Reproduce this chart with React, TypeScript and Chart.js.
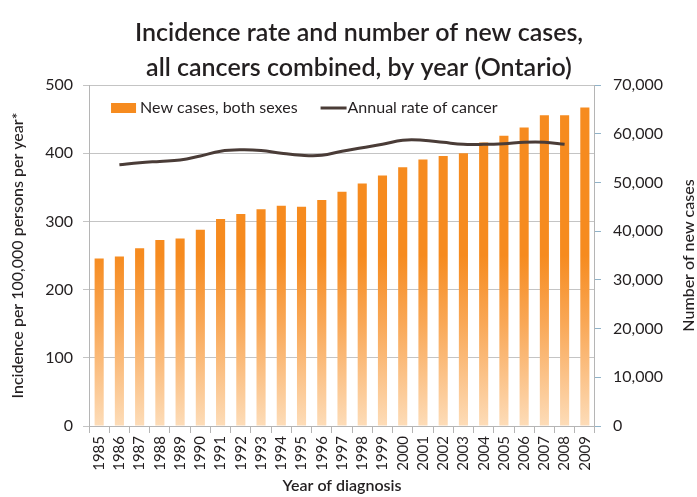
import React, { useEffect, useRef } from "react";
import { Chart, registerables } from "chart.js";

Chart.register(...registerables);

const years = ["1985","1986","1987","1988","1989","1990","1991","1992","1993","1994","1995","1996","1997","1998","1999","2000","2001","2002","2003","2004","2005","2006","2007","2008","2009"];
const newCases = [34400, 34800, 36500, 38200, 38500, 40300, 42500, 43500, 44500, 45200, 45000, 46400, 48100, 49800, 51400, 53100, 54700, 55400, 56000, 58200, 59600, 61300, 63800, 63800, 65400];
const annualRate: (number | null)[] = [null, 383, 386, 388, 390, 396, 403, 405, 404, 400, 397, 397, 403, 408, 413, 419, 419, 416, 413, 413, 414, 416, 416, 413, null];
const leftTicks = [0, 100, 200, 300, 400, 500];
const rightTicks = [0, 10000, 20000, 30000, 40000, 50000, 60000, 70000];
const titleLines = ["Incidence rate and number of new cases,", "all cancers combined, by year (Ontario)"];
const rightTitle = "Number of new cases";

const FONT = "Lato";
const TEXT = "#231f20";
const ORANGE = "#f68b1f";
const LINE = "#4a3c37";

const chartTitle = {
  id: "chartTitle",
  afterDraw(chart: any) {
    const { ctx } = chart;
    ctx.save();
    ctx.font = `600 25px ${FONT}`;
    ctx.fillStyle = TEXT;
    ctx.textAlign = "center";
    ctx.textBaseline = "middle";
    titleLines.forEach((t, i) => ctx.fillText(t, 359, 33 + i * 35));
    ctx.restore();
  },
};

const insideLegend = {
  id: "insideLegend",
  afterDatasetsDraw(chart: any) {
    const { ctx, chartArea } = chart;
    const ds = chart.data.datasets;
    ctx.save();
    ctx.font = `16px ${FONT}`;
    ctx.textBaseline = "middle";
    ctx.textAlign = "left";
    const cy = chartArea.top + 23;
    let x = chartArea.left + 22;
    ctx.fillStyle = ORANGE;
    ctx.fillRect(x, cy - 5, 25, 10);
    x += 29;
    ctx.fillStyle = TEXT;
    ctx.fillText(ds[0].label, x, cy);
    x += ctx.measureText(ds[0].label).width + 23;
    ctx.strokeStyle = LINE;
    ctx.lineWidth = 3;
    ctx.beginPath();
    ctx.moveTo(x, cy);
    ctx.lineTo(x + 26, cy);
    ctx.stroke();
    x += 27;
    ctx.fillText(ds[1].label, x, cy);
    ctx.restore();
  },
};

// right-axis title reading bottom-to-top, as in the reference
const rightAxisTitle = {
  id: "rightAxisTitle",
  afterDraw(chart: any) {
    const { ctx, chartArea, width } = chart;
    ctx.save();
    ctx.translate(width - 8, (chartArea.top + chartArea.bottom) / 2);
    ctx.rotate(-Math.PI / 2);
    ctx.font = `500 16px ${FONT}`;
    ctx.fillStyle = TEXT;
    ctx.textAlign = "center";
    ctx.textBaseline = "middle";
    ctx.fillText(rightTitle, 0, 0);
    ctx.restore();
  },
};

export default function App() {
  const ref = useRef<HTMLCanvasElement | null>(null);
  useEffect(() => {
    if (!ref.current) return;
    const barFill = (c: any) => {
      const area = c.chart.chartArea;
      if (!area) return ORANGE;
      const g = c.chart.ctx.createLinearGradient(0, area.bottom, 0, area.top);
      g.addColorStop(0, "#fddcb8");
      g.addColorStop(0.3, "#f9a857");
      g.addColorStop(0.5, ORANGE);
      g.addColorStop(1, ORANGE);
      return g;
    };
    const chart = new Chart(ref.current, {
      type: "bar",
      data: {
        labels: years,
        datasets: [
          {
            type: "bar",
            label: "New cases, both sexes",
            data: newCases,
            backgroundColor: barFill,
            yAxisID: "y2",
            barPercentage: 0.45,
            categoryPercentage: 1,
            order: 2,
          },
          {
            type: "line",
            label: "Annual rate of cancer",
            data: annualRate,
            borderColor: LINE,
            backgroundColor: LINE,
            borderWidth: 3,
            pointRadius: 0,
            tension: 0.4,
            yAxisID: "y",
            order: 1,
          },
        ] as any,
      },
      plugins: [chartTitle, insideLegend, rightAxisTitle],
      options: {
        animation: false,
        responsive: true,
        maintainAspectRatio: false,
        layout: { padding: { left: 8, right: 22, bottom: 2, top: 85 } },
        plugins: {
          title: { display: false },
          legend: { display: false },
          tooltip: { enabled: false },
        },
        scales: {
          x: {
            grid: { display: true, drawOnChartArea: false, color: "#b5b5b5", tickLength: 7, offset: true },
            border: { color: "#b5b5b5" },
            ticks: { color: TEXT, font: { family: FONT, size: 15 }, minRotation: 90, maxRotation: 90, padding: 3, autoSkip: false },
            title: { display: true, text: "Year of diagnosis", color: TEXT, font: { family: FONT, size: 16, weight: "600" as any }, padding: { top: 2, bottom: 0 } },
          },
          y: {
            position: "left",
            min: 0,
            max: 500,
            afterBuildTicks: (s: any) => { s.ticks = leftTicks.map((v) => ({ value: v })); },
            grid: { color: "#c4c4c4", tickLength: 6 },
            border: { color: "#b5b5b5" },
            ticks: { color: TEXT, font: { family: FONT, size: 16 }, padding: 10 },
            title: { display: true, text: "Incidence per 100,000 persons per year*", color: TEXT, font: { family: FONT, size: 16, weight: "500" as any }, padding: { top: 0, bottom: 8 } },
          },
          y2: {
            position: "right",
            min: 0,
            max: 70000,
            afterBuildTicks: (s: any) => { s.ticks = rightTicks.map((v) => ({ value: v })); },
            grid: { drawOnChartArea: false, color: "#8fb2c8", tickLength: 6 },
            border: { color: "#b5b5b5" },
            ticks: { color: TEXT, font: { family: FONT, size: 16 }, padding: 12 },
            title: { display: false },
          },
        },
      },
    });
    return () => chart.destroy();
  }, []);
  return (
    <div style={{ position: "absolute", left: 0, top: 0, width: 697, height: 497, background: "#fff" }}>
      <canvas ref={ref} />
    </div>
  );
}
